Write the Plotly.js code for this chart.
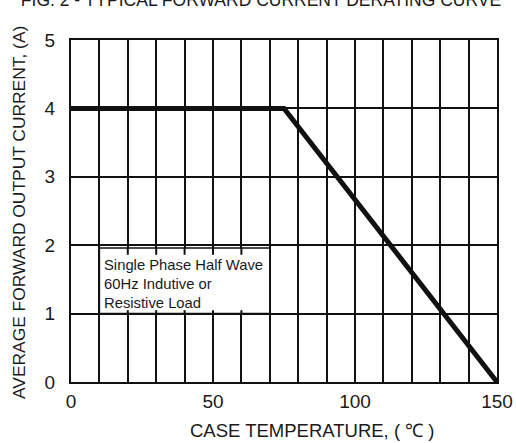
<!DOCTYPE html>
<html><head><meta charset="utf-8">
<script src="https://cdn.plot.ly/plotly-3.0.1.min.js"></script>
<style>body{margin:0;background:#fff}#c{width:516px;height:443px}</style>
</head><body><div id="c"></div>
<script>
var temperature = [0, 75, 150];
var current = [4, 4, 0];
var xTicks = [0, 50, 100, 150];
var yTicks = [0, 1, 2, 3, 4, 5];
var titleText = "FIG. 2 - TYPICAL FORWARD CURRENT DERATING CURVE";
var xTitle = "CASE TEMPERATURE, ( \u2103 )";
var yTitle = "AVERAGE FORWARD OUTPUT CURRENT, (A)";
var noteLines = ["Single Phase Half Wave", "60Hz Indutive or", "Resistive Load"];
var noteBox = {x0: 10, x1: 70, y0: 1, y1: 1.96};

var shapes = [{type:'rect', xref:'x', yref:'y', x0:noteBox.x0, x1:noteBox.x1, y0:noteBox.y0, y1:noteBox.y1,
  fillcolor:'#fff', line:{color:'#111', width:1.5}, layer:'above'}];
for (var g = noteBox.x0 + 10; g < noteBox.x1; g += 10) {
  shapes.push({type:'line', xref:'x', yref:'y', x0:g, x1:g, y0:noteBox.y1, y1:noteBox.y1-0.1, line:{color:'#111', width:2}, layer:'above'});
  shapes.push({type:'line', xref:'x', yref:'y', x0:g, x1:g, y0:noteBox.y0, y1:noteBox.y0+0.05, line:{color:'#111', width:2}, layer:'above'});
}

var data = [{x: temperature, y: current, type:'scatter', mode:'lines',
  line:{color:'#111', width:5}, hoverinfo:'skip'}];

var fontFam = 'Liberation Sans, Arial, sans-serif';
var layout = {
  width:516, height:443,
  margin:{l:71, r:19, t:40, b:61},
  paper_bgcolor:'#fff', plot_bgcolor:'#fff',
  showlegend:false,
  font:{family:fontFam, color:'#1a1a1a', size:19},
  title:{text:titleText, x:261/516, xanchor:'center', xref:'container', yref:'container', y:1, yanchor:'middle',
    font:{family:fontFam, size:17.5, color:'#1a1a1a'}},
  xaxis:{range:[0,150], tickvals:xTicks, ticktext:xTicks.map(String), showgrid:true, gridcolor:'#111', gridwidth:2,
    showline:true, mirror:true, linecolor:'#111', linewidth:2, zeroline:false, ticks:'outside', ticklen:1, tickcolor:'rgba(0,0,0,0)', fixedrange:true,
    tickfont:{size:19}},
  yaxis:{range:[0,5], tickvals:yTicks, ticktext:yTicks.map(String), showgrid:true, gridcolor:'#111', gridwidth:2,
    showline:true, mirror:true, linecolor:'#111', linewidth:2, zeroline:false, ticks:'outside', ticklen:10, tickcolor:'rgba(0,0,0,0)', fixedrange:true,
    tickfont:{size:19}},
  shapes: shapes,
  annotations:[
    {text:xTitle, xref:'paper', yref:'paper', x:(312-71)/426, y:-(430-382)/342, xanchor:'center', yanchor:'middle', showarrow:false,
      font:{family:fontFam, size:18.5, color:'#1a1a1a'}},
    {text:yTitle, xref:'paper', yref:'paper', x:-(71-19)/426, y:(382-213)/342, xanchor:'center', yanchor:'middle', textangle:-90, showarrow:false,
      font:{family:fontFam, size:17.4, color:'#1a1a1a'}},
    {text:noteLines.join('<br>'), xref:'x', yref:'y', x:noteBox.x0+0.9, y:noteBox.y1-0.1, xanchor:'left', yanchor:'top', align:'left', showarrow:false,
      font:{family:fontFam, size:14.8, color:'#1a1a1a'}}
  ]
};
layout.xaxis.minor = {dtick:10, showgrid:true, gridcolor:'#111', gridwidth:2, ticks:''};
Plotly.newPlot('c', data, layout, {displayModeBar:false, staticPlot:true});
</script></body></html>
